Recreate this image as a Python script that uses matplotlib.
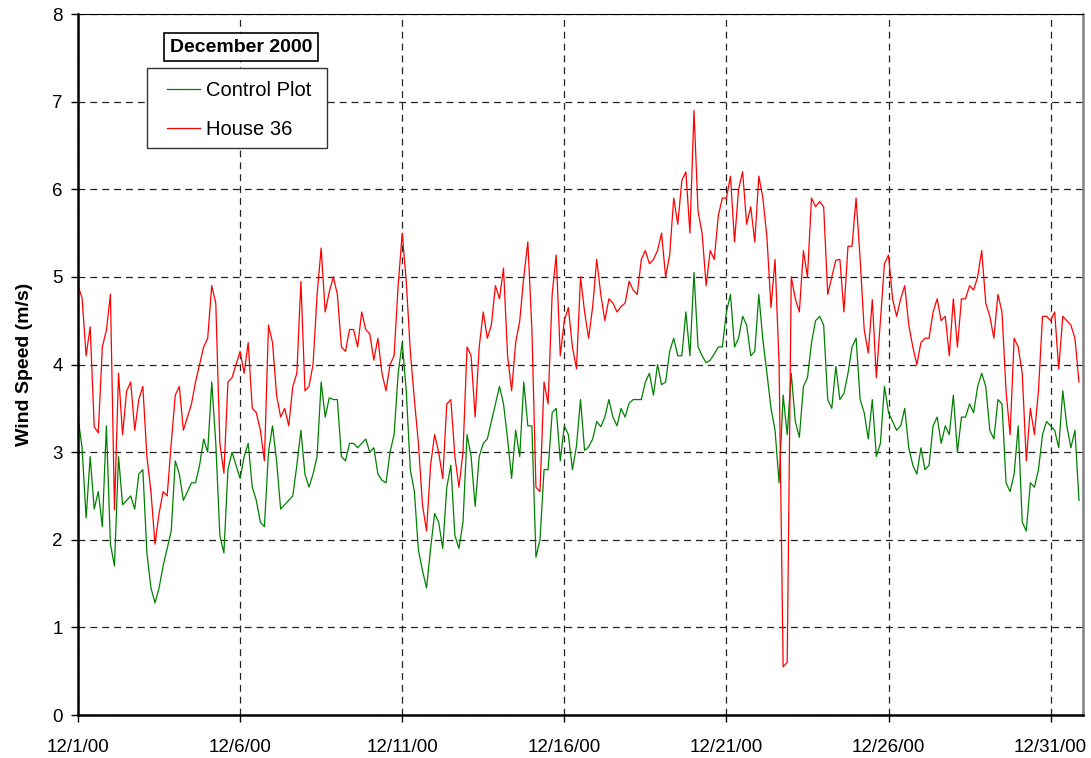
import numpy as np
import pandas as pd
import matplotlib
matplotlib.use("Agg")
import matplotlib.pyplot as plt
from matplotlib.patches import Rectangle

plt.rcParams['font.family'] = ['Liberation Sans', 'DejaVu Sans']

# wind speed readings (m/s), every 3 hours from 12/1/00 00:00, one day per row
control_plot = [
    3.4, 3.05, 2.25, 2.95, 2.35, 2.55, 2.15, 3.3,
    1.95, 1.7, 2.95, 2.4, 2.45, 2.5, 2.35, 2.75,
    2.8, 1.85, 1.45, 1.28, 1.45, 1.7, 1.9, 2.1,
    2.9, 2.75, 2.45, 2.55, 2.65, 2.65, 2.85, 3.15,
    3.0, 3.8, 3.1, 2.05, 1.85, 2.8, 3.0, 2.85,
    2.7, 2.95, 3.1, 2.6, 2.45, 2.2, 2.15, 3.0,
    3.3, 2.9, 2.35, 2.4, 2.45, 2.5, 2.85, 3.25,
    2.75, 2.6, 2.75, 2.95, 3.8, 3.4, 3.62, 3.6,
    3.6, 2.95, 2.9, 3.1, 3.1, 3.05, 3.1, 3.15,
    3.0, 3.05, 2.75, 2.68, 2.65, 3.0, 3.2, 3.9,
    4.25, 3.7, 2.8, 2.55, 1.88, 1.65, 1.45, 1.9,
    2.3, 2.2, 1.9, 2.6, 2.85, 2.05, 1.9, 2.2,
    3.2, 2.95, 2.38, 2.95, 3.1, 3.15, 3.35, 3.55,
    3.75, 3.55, 3.15, 2.7, 3.25, 2.95, 3.8, 3.3,
    3.3, 1.8, 2.0, 2.8, 2.8, 3.45, 3.5, 2.9,
    3.3, 3.2, 2.8, 3.07, 3.6, 3.02, 3.06, 3.15,
    3.35, 3.29, 3.4, 3.6, 3.4, 3.3, 3.5, 3.4,
    3.56, 3.6, 3.6, 3.6, 3.8, 3.9, 3.65, 4.0,
    3.77, 3.8, 4.15, 4.3, 4.1, 4.1, 4.6, 4.1,
    5.05, 4.2, 4.1, 4.02, 4.05, 4.12, 4.2, 4.2,
    4.6, 4.8, 4.2, 4.3, 4.55, 4.45, 4.1, 4.15,
    4.8, 4.28, 3.9, 3.5, 3.25, 2.65, 3.65, 3.2,
    3.9, 3.35, 3.17, 3.75, 3.85, 4.25, 4.5, 4.55,
    4.45, 3.6, 3.5, 3.98, 3.6, 3.67, 3.9, 4.2,
    4.3, 3.6, 3.45, 3.15, 3.6, 2.95, 3.1, 3.75,
    3.45, 3.35, 3.25, 3.3, 3.5, 3.05, 2.85, 2.75,
    3.05, 2.8, 2.85, 3.3, 3.4, 3.1, 3.3, 3.2,
    3.65, 3.0, 3.4, 3.4, 3.55, 3.45, 3.75, 3.9,
    3.75, 3.25, 3.15, 3.6, 3.55, 2.65, 2.55, 2.75,
    3.3, 2.2, 2.1, 2.65, 2.6, 2.8, 3.2, 3.35,
    3.3, 3.25, 3.05, 3.7, 3.3, 3.05, 3.25, 2.45,
]

house_36 = [
    4.9, 4.76, 4.1, 4.43, 3.29, 3.22, 4.2, 4.39,
    4.8, 2.34, 3.9, 3.2, 3.7, 3.8, 3.25, 3.6,
    3.75, 2.95, 2.55, 1.95, 2.3, 2.55, 2.5, 3.1,
    3.65, 3.75, 3.25, 3.4, 3.55, 3.8, 4.0, 4.2,
    4.3, 4.9, 4.7, 3.1, 2.76, 3.8, 3.85, 4.0,
    4.15, 3.9, 4.25, 3.5, 3.45, 3.25, 2.9, 4.45,
    4.25, 3.65, 3.4, 3.5, 3.3, 3.75, 3.9, 4.95,
    3.7, 3.75, 4.0, 4.8, 5.33, 4.6, 4.83, 5.0,
    4.8, 4.2, 4.15, 4.4, 4.4, 4.2, 4.6, 4.4,
    4.35, 4.05, 4.3, 3.9, 3.7, 4.0, 4.1, 4.9,
    5.5, 4.95, 4.15, 3.6, 3.1, 2.4, 2.1, 2.85,
    3.2, 3.0, 2.7, 3.55, 3.6, 2.95, 2.6, 3.0,
    4.2, 4.1, 3.4, 4.2, 4.6, 4.3, 4.45, 4.9,
    4.75, 5.1, 4.1, 3.7, 4.25, 4.5, 5.0, 5.4,
    4.4, 2.6, 2.55, 3.8, 3.55, 4.8, 5.25, 4.1,
    4.5, 4.65, 4.2, 3.95, 5.0, 4.6, 4.3, 4.66,
    5.2, 4.8, 4.5, 4.75, 4.7, 4.6, 4.66, 4.7,
    4.95, 4.85, 4.8, 5.2, 5.3, 5.15, 5.2, 5.3,
    5.5, 5.0, 5.25, 5.9, 5.6, 6.1, 6.2, 5.5,
    6.9, 5.75, 5.5, 4.9, 5.3, 5.2, 5.7, 5.9,
    5.9, 6.15, 5.4, 6.0, 6.2, 5.6, 5.8, 5.4,
    6.15, 5.9, 5.45, 4.65, 5.2, 4.0, 0.55, 0.6,
    5.0, 4.75, 4.6, 5.3, 5.0, 5.9, 5.8, 5.86,
    5.8, 4.8, 5.0, 5.19, 5.2, 4.6, 5.35, 5.35,
    5.9, 5.2, 4.4, 4.13, 4.74, 3.85, 4.5, 5.15,
    5.25, 4.75, 4.55, 4.75, 4.9, 4.45, 4.2, 4.0,
    4.25, 4.3, 4.3, 4.6, 4.75, 4.5, 4.55, 4.1,
    4.75, 4.2, 4.75, 4.75, 4.9, 4.85, 5.0, 5.3,
    4.7, 4.55, 4.3, 4.8, 4.6, 3.7, 3.2, 4.3,
    4.2, 3.9, 2.9, 3.5, 3.2, 3.7, 4.55, 4.55,
    4.5, 4.6, 3.95, 4.55, 4.5, 4.45, 4.3, 3.8,
]

tick_dates = ['2000-12-01', '2000-12-06', '2000-12-11', '2000-12-16',
              '2000-12-21', '2000-12-26', '2000-12-31']
tick_labels = ['12/1/00', '12/6/00', '12/11/00', '12/16/00',
               '12/21/00', '12/26/00', '12/31/00']

times = pd.date_range('2000-12-01', periods=len(house_36), freq='3h')

fig = plt.figure(figsize=(10.91, 7.58), dpi=100)
ax = fig.add_axes([0.0715, 0.0567, 0.9212, 0.9248])

ax.plot(times, control_plot, color='#008000', lw=0.9, label='Control Plot')
ax.plot(times, house_36, color='#ff0000', lw=0.9, label='House 36')

ax.set_xlim(pd.Timestamp('2000-12-01'), pd.Timestamp('2001-01-01'))
ax.set_ylim(0, 8)
ax.set_yticks(range(0, 9))
ax.set_xticks(pd.to_datetime(tick_dates))
ax.set_xticklabels(tick_labels)
ax.tick_params(axis='both', labelsize=13.5, direction='out', length=5, width=1)
ax.tick_params(axis='x', pad=12)
ax.tick_params(axis='y', pad=6)

ax.grid(True, color='#222222', lw=0.9, linestyle=(0, (5.5, 4)))
ax.set_axisbelow(True)

for side in ['left', 'bottom']:
    ax.spines[side].set_linewidth(1.8)
    ax.spines[side].set_color('black')
ax.spines['top'].set_linewidth(0.8)
ax.spines['right'].set_linewidth(1.8)
ax.spines['right'].set_color('#808080')

ax.set_ylabel('Wind Speed (m/s)', fontsize=14, fontweight='bold', labelpad=14)

# legend: entries without frame, box drawn separately (wider side padding)
ax.add_patch(Rectangle((0.0687, 0.8088), 0.1791, 0.1141, transform=ax.transAxes,
                       fc='white', ec='#333333', lw=1.0, zorder=4))
leg = ax.legend(loc='upper left', bbox_to_anchor=(0.0886, 0.9042), fontsize=14.5,
                frameon=False, handlelength=1.65, handletextpad=0.3,
                labelspacing=1.0, borderpad=0, borderaxespad=0)
leg.set_zorder(5)
for line in leg.get_lines():
    line.set_linewidth(0.9)

ax.text(0.1622, 0.9529, 'December 2000', transform=ax.transAxes, ha='center',
        va='center', fontsize=14, fontweight='bold', zorder=6,
        bbox=dict(boxstyle='square,pad=0.3', fc='white', ec='black', lw=1.2))

fig.savefig('out.png', dpi=100)
